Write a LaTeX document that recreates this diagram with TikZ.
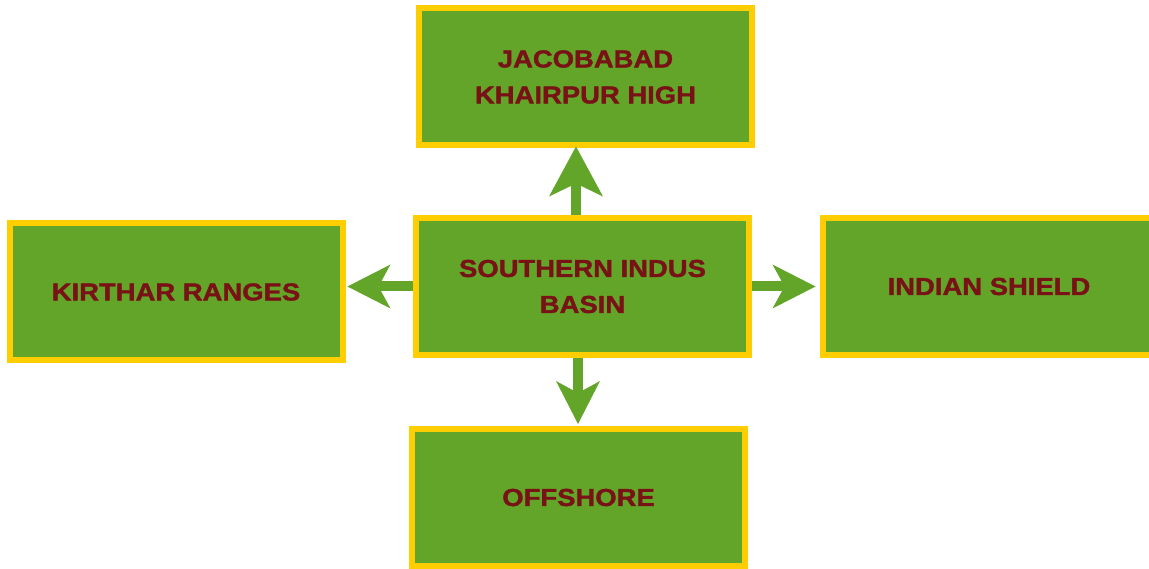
\documentclass[tikz,border=0pt]{standalone}
\usepackage{fontspec}
\setmainfont{Liberation Sans}[FakeStretch=1.12, BoldFeatures={FakeBold=1.5}]
\usetikzlibrary{arrows.meta}
\definecolor{boxgreen}{RGB}{98,165,40}
\definecolor{boxyellow}{RGB}{255,206,0}
\definecolor{textred}{RGB}{120,18,22}
\tikzset{
  regionbox/.style={draw=boxyellow, fill=boxgreen, line width=6pt,
    minimum width=333pt, minimum height=137pt, inner sep=0pt,
    text=textred, align=center,
    font=\fontsize{24.5pt}{36pt}\selectfont\bfseries},
  flowarrow/.style={draw=boxgreen, line width=10pt,
    -{Stealth[length=43pt,width=44pt,inset=12pt,line width=0pt]}},
}
\begin{document}
\begin{tikzpicture}[x=1pt,y=-1pt]
\useasboundingbox (0,0) rectangle (1149,569);
\node[regionbox] (top) at (585.5,77) {JACOBABAD\\KHAIRPUR HIGH};
\node[regionbox] (c) at (582.5,286.5) {SOUTHERN INDUS\\BASIN};
\node[regionbox] (left) at (176,292) {KIRTHAR RANGES};
\node[regionbox] (right) at (989,286.5) {INDIAN SHIELD};
\node[regionbox] (bottom) at (578.5,497.5) {OFFSHORE};
\coordinate (xup) at (576,0);
\coordinate (xdown) at (578,0);
\draw[flowarrow, -{Stealth[length=50pt,width=54pt,inset=13pt,line width=0pt]}]
  (c.north -| xup) -- ([yshift=2pt]top.south -| xup);
\draw[flowarrow] (c.south -| xdown) -- ([yshift=2pt]bottom.north -| xdown);
\draw[flowarrow] (c.west) -- ([xshift=2pt]left.east |- c.west);
\draw[flowarrow] (c.east) -- ([xshift=-4pt]right.west);
\end{tikzpicture}
\end{document}
